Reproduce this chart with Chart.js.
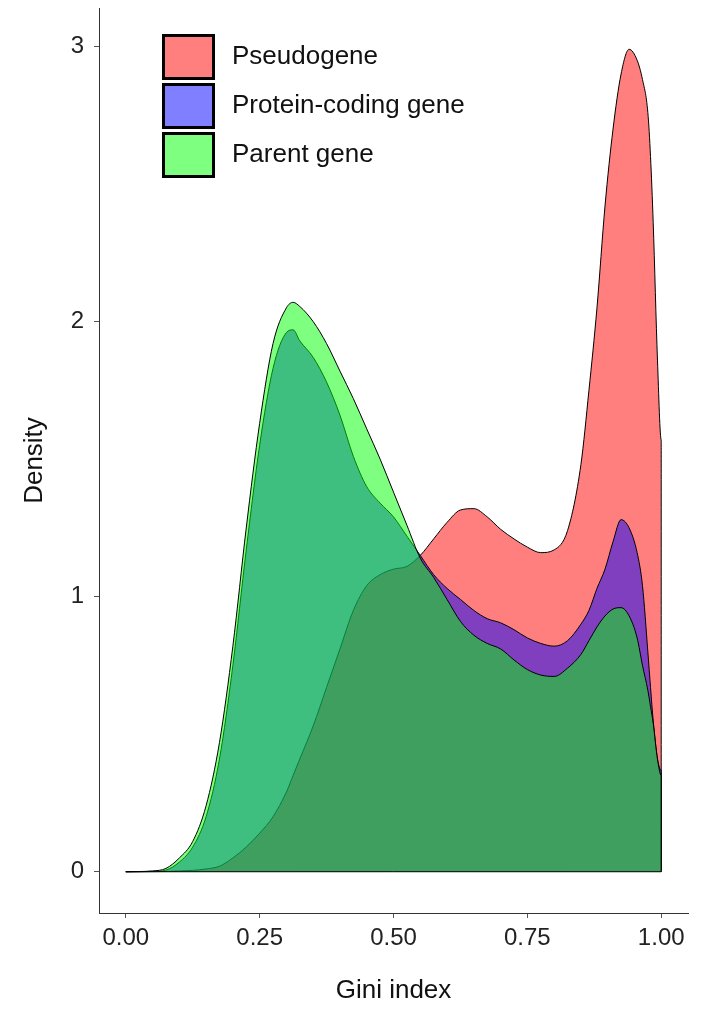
<!DOCTYPE html>
<html lang="en">
<head>
    <meta charset="UTF-8">
    <title>Gini index density</title>
    <script src="https://cdn.jsdelivr.net/npm/chart.js"></script>
    <style>
        body { margin: 0; background: #fff; }
        canvas { display: block; }
    </style>
</head>
<body>
    <canvas id="myChart" width="705" height="1009"></canvas>

    <script>
        // Gini index grid (x) and density of each group
        const gini = [0, 0.05, 0.075, 0.1, 0.125, 0.15, 0.175, 0.2, 0.225, 0.25, 0.275, 0.3, 0.3125, 0.325, 0.35, 0.375,
            0.4, 0.425, 0.45, 0.475, 0.5, 0.525, 0.55, 0.575, 0.6, 0.625, 0.65, 0.675, 0.7, 0.725, 0.75, 0.775,
            0.8, 0.825, 0.85, 0.865, 0.88, 0.895, 0.91, 0.925, 0.94, 0.955, 0.965, 0.975, 0.98, 0.985, 0.993, 1.0];

        const pseudogene = [0, 0.0005, 0.001, 0.003, 0.005, 0.01, 0.02, 0.05, 0.09, 0.14, 0.2, 0.29, 0.35, 0.41, 0.53, 0.67,
            0.81, 0.95, 1.04, 1.08, 1.10, 1.11, 1.15, 1.21, 1.27, 1.315, 1.32, 1.29, 1.245, 1.21, 1.18, 1.16,
            1.17, 1.24, 1.48, 1.75, 2.05, 2.42, 2.70, 2.90, 2.99, 2.95, 2.88, 2.76, 2.60, 2.36, 1.86, 1.57];

        const proteinCoding = [0, 0.001, 0.006, 0.035, 0.09, 0.20, 0.41, 0.75, 1.17, 1.55, 1.83, 1.96, 1.97, 1.93, 1.87, 1.78,
            1.66, 1.51, 1.40, 1.34, 1.29, 1.22, 1.15, 1.08, 1.03, 0.99, 0.95, 0.92, 0.905, 0.88, 0.85, 0.83,
            0.82, 0.84, 0.90, 0.95, 1.03, 1.10, 1.20, 1.28, 1.25, 1.16, 1.04, 0.80, 0.67, 0.55, 0.41, 0.37];

        const parentGene = [0, 0.003, 0.012, 0.05, 0.11, 0.24, 0.47, 0.82, 1.25, 1.63, 1.92, 2.05, 2.07, 2.055, 2.00, 1.92,
            1.82, 1.72, 1.61, 1.50, 1.38, 1.26, 1.14, 1.07, 0.99, 0.91, 0.86, 0.83, 0.81, 0.77, 0.735, 0.715,
            0.71, 0.74, 0.79, 0.84, 0.89, 0.93, 0.955, 0.96, 0.93, 0.85, 0.75, 0.66, 0.60, 0.54, 0.41, 0.35];

        const seriesNames = ['Pseudogene', 'Protein-coding gene', 'Parent gene'];
        const xTicks = [0, 0.25, 0.5, 0.75, 1];
        const xTickLabels = ['0.00', '0.25', '0.50', '0.75', '1.00'];
        const yTicks = [0, 1, 2, 3];

        const FONT = "'Liberation Sans', Helvetica, Arial, sans-serif";
        const fills = ['rgba(255,0,0,0.5)', 'rgba(0,0,255,0.5)', 'rgba(0,255,0,0.5)'];

        // density curve, closed down to zero at the right edge
        function curve(values) {
            const pts = gini.map((g, i) => ({x: g, y: values[i]}));
            pts.push({x: gini[gini.length - 1], y: 0});
            return pts;
        }

        const densityDataset = (label, values, color, order) => ({
            label: label,
            data: curve(values),
            backgroundColor: color,
            borderColor: '#000',
            borderWidth: 1,
            fill: 'origin',
            pointRadius: 0,
            cubicInterpolationMode: 'monotone',
            order: order
        });

        // draws legend keys inside the plot, top left
        const insideLegend = {
            id: 'insideLegend',
            afterDraw(chart) {
                const ctx = chart.ctx;
                const area = chart.chartArea;
                const left = area.left + 63;
                let top = area.top + 26;
                ctx.save();
                ctx.font = '26px ' + FONT;
                ctx.textBaseline = 'middle';
                seriesNames.forEach((name, i) => {
                    ctx.fillStyle = '#fff';
                    ctx.fillRect(left, top, 53, 46);
                    ctx.fillStyle = fills[i];
                    ctx.fillRect(left, top, 53, 46);
                    ctx.lineWidth = 3;
                    ctx.strokeStyle = '#000';
                    ctx.strokeRect(left + 1.5, top + 1.5, 50, 43);
                    ctx.fillStyle = '#111';
                    ctx.fillText(name, left + 70, top + 23);
                    top += 49;
                });
                ctx.restore();
            }
        };

        const chartCanvas = document.getElementById('myChart').getContext('2d');

        const chart = new Chart(chartCanvas, {
            type: 'line',
            data: {
                datasets: [
                    densityDataset(seriesNames[0], pseudogene, fills[0], 3),
                    densityDataset(seriesNames[1], proteinCoding, fills[1], 2),
                    densityDataset(seriesNames[2], parentGene, fills[2], 1),
                    {
                        label: 'baseline',
                        data: [{x: gini[0], y: 0}, {x: gini[gini.length - 1], y: 0}],
                        borderColor: '#000',
                        borderWidth: 1,
                        pointRadius: 0,
                        fill: false,
                        order: 0
                    }
                ]
            },
            options: {
                responsive: false,
                animation: false,
                layout: {
                    padding: {left: 0, right: 17, top: 8, bottom: 0}
                },
                plugins: {
                    legend: {display: false},
                    tooltip: {enabled: false}
                },
                scales: {
                    x: {
                        type: 'linear',
                        min: -0.05,
                        max: 1.05,
                        afterBuildTicks: scale => { scale.ticks = xTicks.map(v => ({value: v})); },
                        afterFit: scale => {
                            scale.height = 96;
                            scale.paddingLeft = 0;
                            scale.paddingRight = 0;
                        },
                        grid: {drawOnChartArea: false, tickLength: 5, tickColor: '#555'},
                        border: {display: true, color: '#333', width: 1},
                        ticks: {
                            padding: 6,
                            color: '#222',
                            font: {family: FONT, size: 24},
                            callback: (v, i) => xTickLabels[i]
                        },
                        title: {
                            display: true,
                            text: 'Gini index',
                            color: '#111',
                            font: {family: FONT, size: 26},
                            padding: {top: 0, bottom: 3}
                        }
                    },
                    y: {
                        type: 'linear',
                        min: -0.15,
                        max: 3.14,
                        afterBuildTicks: scale => { scale.ticks = yTicks.map(v => ({value: v})); },
                        afterFit: scale => {
                            scale.width = 99;
                            scale.paddingTop = 0;
                            scale.paddingBottom = 0;
                        },
                        grid: {drawOnChartArea: false, tickLength: 5, tickColor: '#555'},
                        border: {display: true, color: '#333', width: 1},
                        ticks: {
                            padding: 10,
                            color: '#222',
                            font: {family: FONT, size: 24}
                        },
                        title: {
                            display: true,
                            text: 'Density',
                            color: '#111',
                            font: {family: FONT, size: 26},
                            padding: {top: 19, bottom: 0}
                        }
                    }
                }
            },
            plugins: [insideLegend]
        });
    </script>
</body>
</html>
